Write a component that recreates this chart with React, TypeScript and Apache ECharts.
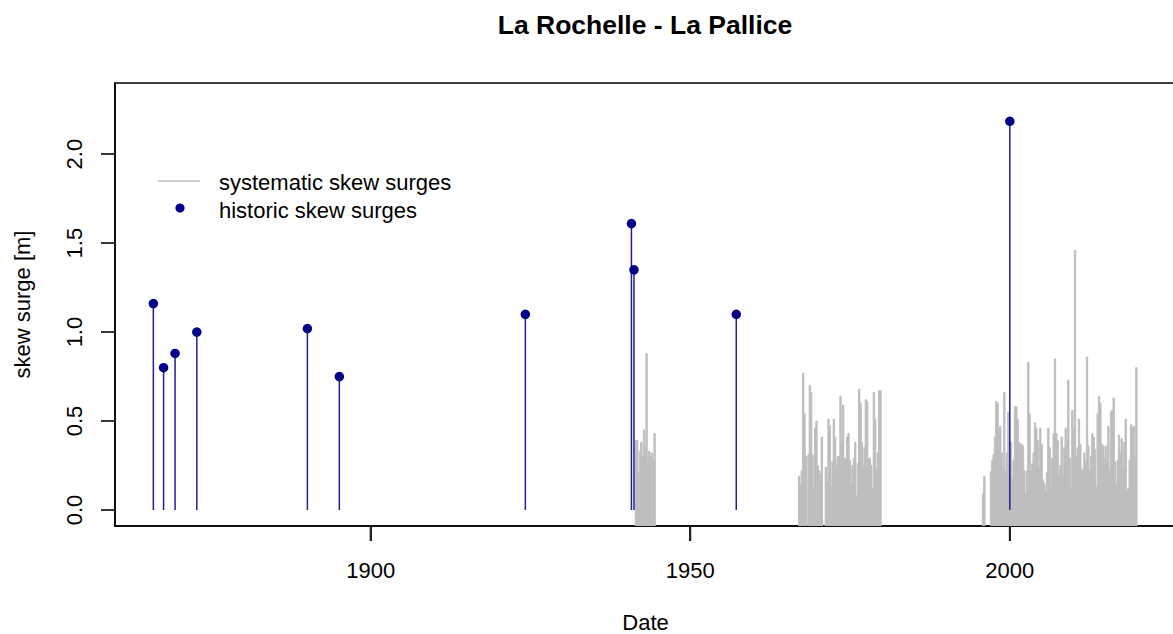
import React, { useEffect, useRef } from "react";
import * as echarts from "echarts";

// ---------- texts ----------
const TITLE = "La Rochelle - La Pallice";
const X_NAME = "Date";
const Y_NAME = "skew surge [m]";
const LEGEND_LABELS = ["systematic skew surges", "historic skew surges"];

// ---------- ticks ----------
const X_TICKS = [1900, 1950, 2000];
const Y_TICKS = [0, 0.5, 1, 1.5, 2];

// ---------- historic skew surges ----------
const HIST_YEARS = [1866.0, 1867.6, 1869.4, 1872.8, 1890.1, 1895.1, 1924.2, 1940.8, 1941.2, 1957.2, 2000.0];
const HIST_VALUES = [1.16, 0.80, 0.88, 1.00, 1.02, 0.75, 1.10, 1.61, 1.35, 1.10, 2.185];

// ---------- systematic skew surges (sampled maxima, one every SYS_STEP years) ----------
const SYS_STEP = 0.2087;
const SYS1_START = 1941.5;
const SYS1 = [0.39, 0.39, 0.21, 0.33, 0.38, 0.30, 0.45, 0.35, 0.88, 0.27, 0.33, 0.30, 0.32, 0.28, 0.43];
const SYS2_START = 1967.04;
const SYS2 = [
  0.19, 0.14, 0.22, 0.77, 0.54, 0.30, null, 0.31, 0.70, 0.66, 0.31, 0.11, 0.46, 0.50, 0.25, 0.22,
  0.20, 0.41, null, null, 0.24, 0.16, 0.51, 0.47, 0.13, 0.27, 0.51, 0.41, 0.25, 0.30, 0.30, 0.64,
  0.38, 0.59, 0.29, 0.29, 0.41, 0.43, 0.28, 0.14, 0.25, 0.29, 0.38, 0.08, 0.26, 0.68, 0.60, 0.38,
  0.24, 0.35, 0.62, 0.61, 0.29, 0.29, 0.25, 0.12, 0.66, 0.51, 0.23, 0.32, 0.67, 0.67,
];
const SYS3_START = 1995.8;
const SYS3 = [
  0.09, 0.19, null, null, null, null, 0.215, 0.28, 0.31, 0.41, 0.61, 0.60, 0.45, 0.47, 0.32, 0.24,
  0.66, 0.22, 0.32, 0.55, 0.25, 0.38, 0.18, 0.28, 0.58, 0.58, 0.51, 0.38, 0.37, 0.37, 0.36, 0.22,
  0.09, 0.22, 0.83, 0.54, 0.22, 0.26, 0.32, 0.49, 0.46, 0.39, 0.23, 0.46, 0.37, 0.17, 0.15, 0.11,
  0.21, 0.46, 0.35, 0.13, 0.29, 0.43, 0.85, 0.43, 0.39, 0.19, 0.25,
  0.41, 0.18, 0.35, 0.46, 0.39, 0.73, 0.29, 0.12, 0.56, 0.46, 1.46, 0.30, 0.35, 0.51, 0.37, 0.23,
  0.22, 0.32, 0.27, 0.86, 0.36, 0.22, 0.30, 0.43, 0.41, 0.34, 0.13, 0.54, 0.64, 0.60, 0.37, 0.36,
  0.29, 0.36, 0.27, 0.47, 0.22, 0.55, 0.56, 0.63, 0.27, 0.14, 0.28, 0.42, 0.32, 0.40, 0.23, 0.38,
  0.51, 0.11, 0.12, 0.28, 0.48, 0.46, 0.47, 0.31, 0.80,
];

const X_MIN = 1860;
const X_MAX = 2026;
const Y_MIN = -0.09;
const Y_MAX = 2.4;

const FONT = "'Liberation Sans', Arial, Helvetica, sans-serif";
const GRAY = "#BEBEBE";
const NAVY = "#00008B";
const STEM = "#1f1f99";

function segment(start: number, values: (number | null)[]) {
  const out: number[][] = [];
  values.forEach((v, i) => {
    if (v !== null) out.push([start + i * SYS_STEP, v]);
  });
  return out;
}

export default function App() {
  const ref = useRef<HTMLDivElement>(null);

  useEffect(() => {
    if (!ref.current) return;
    const chart = echarts.init(ref.current, undefined, { renderer: "svg" });

    const sysData = [
      ...segment(SYS1_START, SYS1),
      ...segment(SYS2_START, SYS2),
      ...segment(SYS3_START, SYS3),
    ];
    const histData = HIST_YEARS.map((y, i) => [y, HIST_VALUES[i]]);

    const axisLine = { show: true, onZero: false, lineStyle: { color: "#000", width: 1.5 } };

    const option: any = {
      animation: false,
      backgroundColor: "#ffffff",
      textStyle: { fontFamily: FONT },
      grid: {
        left: 115,
        top: 83,
        width: 1061,
        height: 443,
        containLabel: false,
        outerBoundsMode: "none",
        show: true,
        borderColor: "#000",
        borderWidth: 1.5,
        backgroundColor: "transparent",
      },
      xAxis: {
        type: "value",
        position: "bottom",
        min: X_MIN,
        max: X_MAX,
        name: X_NAME,
        nameLocation: "middle",
        nameGap: 85,
        nameTextStyle: { fontSize: 22, color: "#000", fontFamily: FONT },
        axisLine,
        splitLine: { show: false },
        axisTick: {
          show: true,
          inside: false,
          customValues: X_TICKS,
          length: 15,
          lineStyle: { color: "#222", width: 2 },
        },
        axisLabel: {
          customValues: X_TICKS,
          margin: 33,
          fontSize: 22,
          color: "#000",
          fontFamily: FONT,
          formatter: (v: number) => String(v),
        },
      },
      yAxis: {
        type: "value",
        position: "left",
        min: Y_MIN,
        max: Y_MAX,
        name: Y_NAME,
        nameLocation: "middle",
        nameRotate: 90,
        nameGap: 82,
        nameTextStyle: { fontSize: 22, color: "#000", fontFamily: FONT },
        axisLine,
        splitLine: { show: false },
        axisTick: {
          show: true,
          inside: false,
          customValues: Y_TICKS,
          length: 14,
          lineStyle: { color: "#222", width: 1.8 },
        },
        axisLabel: {
          customValues: Y_TICKS,
          rotate: 90,
          margin: 30,
          fontSize: 22,
          color: "#000",
          fontFamily: FONT,
          formatter: (v: number) => v.toFixed(1),
        },
      },
      series: [
        {
          type: "custom",
          name: LEGEND_LABELS[0],
          clip: true,
          data: sysData,
          encode: { x: 0, y: 1 },
          renderItem: (params: any, api: any) => {
            const x = api.value(0);
            const v = api.value(1);
            const p1 = api.coord([x - SYS_STEP / 2, v]);
            const p0 = api.coord([x + SYS_STEP / 2, Y_MIN]);
            return {
              type: "rect",
              shape: { x: p1[0], y: p1[1], width: p0[0] - p1[0], height: p0[1] - p1[1] },
              style: { fill: GRAY, stroke: GRAY, lineWidth: 1 },
            };
          },
          z: 2,
        },
        {
          type: "custom",
          name: LEGEND_LABELS[1] + " stems",
          clip: true,
          data: histData,
          encode: { x: 0, y: 1 },
          renderItem: (params: any, api: any) => {
            const x = api.value(0);
            const v = api.value(1);
            const top = api.coord([x, v]);
            const bot = api.coord([x, 0]);
            return {
              type: "line",
              shape: { x1: top[0], y1: top[1], x2: bot[0], y2: bot[1] },
              style: { stroke: STEM, lineWidth: 1.5 },
            };
          },
          z: 3,
        },
        {
          type: "scatter",
          name: LEGEND_LABELS[1],
          data: histData,
          symbol: "circle",
          symbolSize: 9.5,
          itemStyle: { color: NAVY, opacity: 1 },
          z: 4,
        },
      ],
      graphic: [
        {
          type: "text",
          style: {
            text: TITLE,
            x: 645,
            y: 25,
            textAlign: "center",
            verticalAlign: "middle",
            fontSize: 26.5,
            fontWeight: "bold",
            fontFamily: FONT,
            fill: "#000",
          },
        },
        {
          type: "line",
          shape: { x1: 158, y1: 181, x2: 200, y2: 181 },
          style: { stroke: GRAY, lineWidth: 1.5 },
        },
        {
          type: "circle",
          shape: { cx: 180, cy: 208, r: 4.6 },
          style: { fill: NAVY },
        },
        {
          type: "text",
          style: {
            text: LEGEND_LABELS[0],
            x: 219,
            y: 182,
            verticalAlign: "middle",
            fontSize: 22,
            fontFamily: FONT,
            fill: "#000",
          },
        },
        {
          type: "text",
          style: {
            text: LEGEND_LABELS[1],
            x: 219,
            y: 210,
            verticalAlign: "middle",
            fontSize: 22,
            fontFamily: FONT,
            fill: "#000",
          },
        },
      ],
    };

    chart.setOption(option);

    // x-axis tick marks placed through the chart's own x scale (outward, below the frame)
    const tickGraphics = X_TICKS.map((t) => {
      const p = chart.convertToPixel({ gridIndex: 0 }, [t, Y_MIN]) as number[];
      return {
        type: "line",
        silent: true,
        z: 100,
        shape: { x1: p[0], y1: p[1], x2: p[0], y2: p[1] + 15 },
        style: { stroke: "#222", lineWidth: 2 },
      };
    });
    chart.setOption({ graphic: [...option.graphic, ...tickGraphics] });

    return () => chart.dispose();
  }, []);

  return (
    <div
      ref={ref}
      style={{ position: "fixed", left: 0, top: 0, width: 1173, height: 634, background: "#fff" }}
    />
  );
}
